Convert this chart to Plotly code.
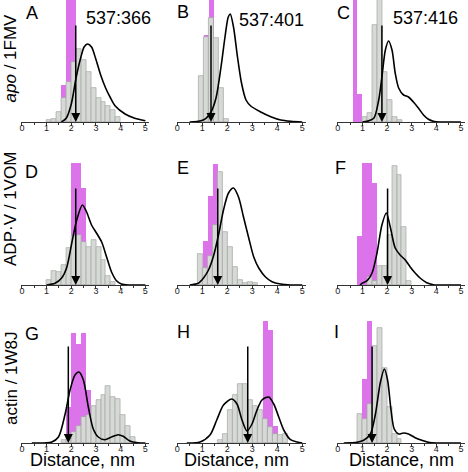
import plotly.graph_objects as go

# ---------------- data (heights in arbitrary units, axis top = 122) ----------------
PANELS = ["A", "B", "C", "D", "E", "F", "G", "H", "I"]
PAIR_LABELS = ["537:366", "537:401", "537:416"]
ROW_LABELS = ["<i>apo</i> / 1FMV", "ADP·V / 1VOM", "actin / 1W8J"]
X_TICKS = [0, 1, 2, 3, 4, 5]
X_TITLE = "Distance, nm"

GRAY_X_A = [1.1, 1.3, 1.5, 1.7, 1.9, 2.1, 2.3, 2.5, 2.7, 2.9, 3.1, 3.3, 3.5, 3.7, 3.9]
GRAY_H_A = [2, 3.5, 10, 24, 40, 60, 73, 62, 50, 34, 24, 20, 16, 12, 5]
MAG_X_A = [1.7, 1.9, 2.1]
MAG_H_A = [37, 140, 140]
CURVE_X_A = [1.6, 1.8, 2.0, 2.2, 2.39, 2.52, 2.66, 2.82, 2.98, 3.19, 3.39, 3.59, 3.78, 4.18, 4.57, 5.0]
CURVE_H_A = [0, 4, 18, 45, 65, 75, 78, 75, 64, 47, 34, 24, 16, 8, 3.7, 1.3]
ARROW_A = 2.18

GRAY_X_B = [0.95, 1.15, 1.35, 1.55, 1.75, 1.95]
GRAY_H_B = [46, 85, 104, 84, 34, 2.7]
MAG_X_B = [1.15, 1.35]
MAG_H_B = [87, 140]
CURVE_X_B = [0.5, 0.95, 1.15, 1.35, 1.55, 1.75, 1.91, 2.04, 2.12, 2.25, 2.41, 2.57, 2.75, 2.94, 3.34, 3.74, 4.14, 4.54, 5.0]
CURVE_H_B = [0, 1.3, 3.7, 10, 24, 55, 85, 105, 108, 95, 65, 39, 22, 16, 10, 5.3, 2, 0.7, 0]
ARROW_B = 1.35

GRAY_X_C = [1.11, 1.31, 1.51, 1.71, 1.91, 2.11, 2.31, 2.51]
GRAY_H_C = [5, 9, 97, 140, 50, 22, 5, 2]
MAG_X_C = [0.71, 0.91]
MAG_H_C = [140, 28]
CURVE_X_C = [1.0, 1.19, 1.46, 1.66, 1.79, 1.93, 2.06, 2.2, 2.33, 2.47, 2.67, 2.87, 3.07, 3.27, 3.48, 3.68, 3.88, 4.15, 5.0]
CURVE_H_C = [0, 0.7, 3.7, 22, 45, 72, 81, 72, 49, 34, 27, 25, 20, 14, 7, 2.7, 0.7, 0, 0]
ARROW_C = 1.79

GRAY_X_D = [1.1, 1.3, 1.5, 1.7, 1.9, 2.1, 2.3, 2.5, 2.7, 2.9, 3.1, 3.3, 3.5, 3.7]
GRAY_H_D = [5, 14, 13, 20, 37, 49, 50, 43, 38, 45, 38, 25, 9, 2.7]
MAG_X_D = [2.1, 2.3, 2.5]
MAG_H_D = [140, 140, 97]
CURVE_X_D = [1.0, 1.34, 1.61, 1.81, 2.02, 2.22, 2.45, 2.62, 2.82, 3.02, 3.23, 3.43, 3.63, 3.83, 4.03, 4.3, 5.0]
CURVE_H_D = [0, 1.7, 7, 17, 42, 65, 80, 73, 60, 52, 43, 28, 13, 4.3, 1, 0, 0]
ARROW_D = 2.18

GRAY_X_E = [0.9, 1.1, 1.3, 1.5, 1.7, 1.9, 2.1, 2.3, 2.5, 2.7, 2.9, 3.1]
GRAY_H_E = [31, 17, 29, 60, 113, 53, 38, 18, 5, 1.7, 2.7, 1.7]
MAG_X_E = [1.1, 1.3, 1.5]
MAG_H_E = [44, 89, 121]
CURVE_X_E = [0.5, 0.84, 1.05, 1.25, 1.45, 1.65, 1.85, 2.05, 2.25, 2.45, 2.65, 2.86, 3.06, 3.26, 3.53, 3.79, 4.13, 4.53, 5.0]
CURVE_H_E = [0, 1.7, 7, 15, 29, 50, 75, 92, 97, 88, 68, 47, 28, 17, 8, 3.3, 1, 0, 0]
ARROW_E = 1.62

GRAY_X_F = [1.3, 1.5, 1.7, 1.9, 2.1, 2.3, 2.5, 2.7, 2.9]
GRAY_H_F = [8, 4, 19, 19, 50, 119, 110, 58, 4.3]
MAG_X_F = [0.9, 1.1, 1.3, 1.5]
MAG_H_F = [49, 140, 140, 102]
CURVE_X_F = [0.9, 0.98, 1.19, 1.39, 1.59, 1.79, 1.97, 2.13, 2.33, 2.53, 2.74, 2.94, 3.14, 3.34, 3.61, 3.88, 4.15, 5.0]
CURVE_H_F = [0, 1.7, 4.3, 12, 32, 60, 72, 58, 37, 30, 25, 18, 12, 7, 2.3, 0.3, 0, 0]
ARROW_F = 2.02

GRAY_X_G = [1.7, 1.9, 2.1, 2.3, 2.5, 2.7, 2.9, 3.1, 3.3, 3.5, 3.7, 3.9, 4.1, 4.3, 4.5]
GRAY_H_G = [3, 6, 11, 17, 26, 28, 37, 43, 48, 57, 46, 44, 28, 17, 6]
MAG_X_G = [1.9, 2.1, 2.3, 2.5, 2.7]
MAG_H_G = [36, 110, 99, 110, 53]
CURVE_X_G = [0.4, 1.21, 1.48, 1.75, 1.95, 2.15, 2.31, 2.49, 2.69, 2.89, 3.09, 3.36, 3.63, 3.9, 4.1, 4.37, 4.7, 5.0]
CURVE_H_G = [0, 1, 6, 29, 53, 68, 71, 63, 36, 14, 6, 3.3, 6, 8.3, 6.7, 2, 0.3, 0]
ARROW_G = 1.88

GRAY_X_H = [1.7, 1.9, 2.1, 2.3, 2.5, 2.7, 2.9, 3.1, 3.3, 3.5, 3.7, 3.9, 4.1, 4.3]
GRAY_H_H = [2.7, 9, 33, 48, 59, 59, 43, 37, 33, 24, 16, 9, 8, 9]
MAG_X_H = [3.5, 3.7, 3.9]
MAG_H_H = [140, 113, 17]
CURVE_X_H = [0.38, 0.91, 1.31, 1.58, 1.85, 2.18, 2.39, 2.59, 2.79, 2.99, 3.19, 3.39, 3.66, 3.86, 4.06, 4.26, 4.53, 4.8, 5.0]
CURVE_H_H = [0, 1, 8, 23, 38, 44, 39, 23, 12, 19, 33, 43, 46, 39, 26, 13, 3.3, 1, 0]
ARROW_H = 2.82

GRAY_X_I = [0.9, 1.1, 1.3, 1.5, 1.7, 1.9, 2.1, 2.3, 2.5]
GRAY_H_I = [29, 24, 39, 97, 115, 75, 36, 9, 4]
MAG_X_I = [1.1, 1.3]
MAG_H_I = [64, 140]
CURVE_X_I = [0.24, 0.78, 1.05, 1.32, 1.52, 1.73, 1.89, 2.02, 2.16, 2.29, 2.47, 2.67, 2.87, 3.14, 3.41, 3.68, 4.02, 5.0]
CURVE_H_I = [0, 0.7, 2.7, 9, 28, 61, 74, 63, 33, 14, 9, 10, 9, 5.3, 2.7, 0.7, 0, 0]
ARROW_I = 1.39

ARROW_TOP = 98
BIN_W = 0.2

# ---------------- layout geometry (pixels) ----------------
W, H = 468, 472
X_RANGE = [-0.02, 5.15]
Y_RANGE = [0, 122]
COL_PX = [(19.5, 147.7), (175.5, 305.3), (336.8, 464.6)]
ROW_PX = [(0, 122), (163, 285), (321, 443)]  # (top, axis line)

MAGENTA = "#dd73eb"
GRAY = "#d6d9d6"
GRAY_EDGE = "#a3a7a3"
FONT = "Liberation Sans, Arial, sans-serif"

g = globals()
fig = go.Figure()
annotations = []

for i, p in enumerate(PANELS):
    r, c = divmod(i, 3)
    n = "" if i == 0 else str(i + 1)
    xa, ya = "x" + n, "y" + n
    gx, gh = g["GRAY_X_" + p], g["GRAY_H_" + p]
    mx, mh = g["MAG_X_" + p], g["MAG_H_" + p]
    cx, ch = g["CURVE_X_" + p], g["CURVE_H_" + p]
    arr = g["ARROW_" + p]

    mag = go.Bar(x=mx, y=mh, width=BIN_W, marker=dict(color=MAGENTA, line=dict(width=0)),
                 xaxis=xa, yaxis=ya, showlegend=False)
    gray = go.Bar(x=gx, y=gh, width=BIN_W, marker=dict(color=GRAY, line=dict(color=GRAY_EDGE, width=0.7)),
                  xaxis=xa, yaxis=ya, showlegend=False)
    curve = go.Scatter(x=cx, y=ch, mode="lines", line=dict(color="black", width=1.6, shape="spline", smoothing=0.8),
                       xaxis=xa, yaxis=ya, showlegend=False, cliponaxis=True)
    if p == "A":
        fig.add_trace(mag); fig.add_trace(curve); fig.add_trace(gray)
    else:
        fig.add_trace(mag); fig.add_trace(gray); fig.add_trace(curve)

    x0, x1 = COL_PX[c]
    top, axis = ROW_PX[r]
    xk = "xaxis" + n
    yk = "yaxis" + n
    fig.layout[xk] = dict(domain=[x0 / W, x1 / W], range=X_RANGE, anchor=ya,
                          showline=True, linecolor="#333", linewidth=1, showgrid=False, zeroline=False,
                          ticks="outside", ticklen=3, tickwidth=1, tickcolor="#333",
                          tickvals=X_TICKS, tickfont=dict(family=FONT, size=9, color="#222"),
                          ticklabelstandoff=-6,
                          minor=dict(tickvals=[0.5, 1.5, 2.5, 3.5, 4.5], ticks="outside", ticklen=2, tickcolor="#333"),
                          fixedrange=True)
    fig.layout[yk] = dict(domain=[1 - axis / H, 1 - top / H], range=Y_RANGE, anchor=xa,
                          visible=False, fixedrange=True)

    annotations.append(dict(x=arr, y=0, ax=arr, ay=ARROW_TOP, xref=xa, yref=ya, axref=xa, ayref=ya,
                            text="", showarrow=True, arrowhead=2, arrowsize=1.2, arrowwidth=1.5,
                            arrowcolor="black", standoff=0))

# panel letters
LETTER_PX = [(30.5, 13.5), (181.5, 11.7), (342.5, 13.5), (29.5, 171.5), (181.5, 167.5),
             (340, 167.5), (30, 333.5), (182.5, 331.5), (336, 332)]
for p, (lx, ly) in zip(PANELS, LETTER_PX):
    annotations.append(dict(x=lx / W, y=1 - ly / H, xref="paper", yref="paper", text=p, showarrow=False,
                            xanchor="center", yanchor="middle", font=dict(family=FONT, size=18, color="black")))

PAIR_PX = [(116.5, 18.5), (270.5, 20), (425.5, 18.5)]
for t, (lx, ly) in zip(PAIR_LABELS, PAIR_PX):
    annotations.append(dict(x=lx / W, y=1 - ly / H, xref="paper", yref="paper", text=t, showarrow=False,
                            xanchor="center", yanchor="middle", font=dict(family=FONT, size=18, color="black")))

ROWLAB_PX = [(9, 57.5), (8, 209), (9, 378)]
for t, (lx, ly) in zip(ROW_LABELS, ROWLAB_PX):
    annotations.append(dict(x=lx / W, y=1 - ly / H, xref="paper", yref="paper", text=t, showarrow=False,
                            textangle=-90, xanchor="center", yanchor="middle",
                            font=dict(family=FONT, size=17, color="black")))

for cxp in [81, 236, 401]:
    annotations.append(dict(x=cxp / W, y=1 - 460 / H, xref="paper", yref="paper", text=X_TITLE,
                            showarrow=False, xanchor="center", yanchor="middle",
                            font=dict(family=FONT, size=18, color="black")))

fig.update_layout(width=W, height=H, margin=dict(l=0, r=0, t=0, b=0),
                  paper_bgcolor="white", plot_bgcolor="white", barmode="overlay", bargap=0,
                  showlegend=False, annotations=annotations)

fig.write_html("out.html", config={"displayModeBar": False},
               post_script="document.body.style.margin='0px';document.body.style.overflow='hidden';")
